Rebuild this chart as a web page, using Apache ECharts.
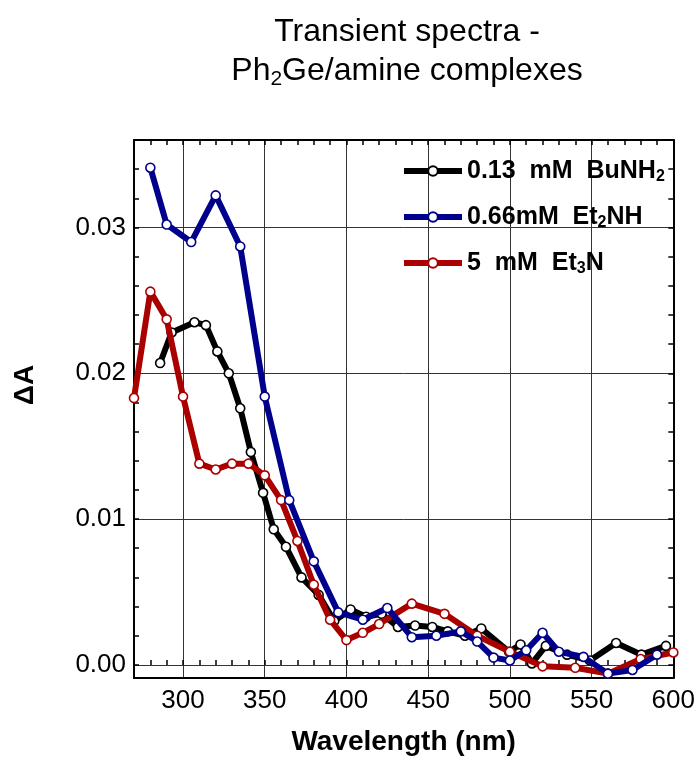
<!DOCTYPE html>
<html>
<head>
<meta charset="utf-8">
<title>Transient spectra</title>
<script src="https://cdn.jsdelivr.net/npm/echarts@6/dist/echarts.min.js"></script>
<style>
  html, body { margin: 0; padding: 0; background: #fff; }
  #chart { width: 698px; height: 764px; }
</style>
</head>
<body>
<div id="chart"></div>
<script>
// wavelength (nm) / deltaA
const buNH2X = [286, 293, 307, 314, 321, 328, 335, 341.5, 349, 355.5, 363, 372.5, 383, 392.5, 402.5, 412, 421.5, 431.5, 442, 452.5, 462, 472.5, 482.5, 499.5, 506.5, 513.5, 522, 535, 549, 565, 580.5, 595.5];
const buNH2Y = [0.0207, 0.0228, 0.0235, 0.0233, 0.0215, 0.0200, 0.0176, 0.0146, 0.0118, 0.0093, 0.0081, 0.0060, 0.0048, 0.0030, 0.0038, 0.0033, 0.0035, 0.0026, 0.0027, 0.0026, 0.0023, 0.0020, 0.0025, 0.0009, 0.0014, 0.0001, 0.0013, 0.0007, 0.0003, 0.0015, 0.0007, 0.0013];

const et2NHX = [280, 290, 305, 320, 335, 350, 365, 380, 395, 410, 425, 440, 455, 470, 480, 490, 500, 510, 520, 530, 545, 560, 575, 590];
const et2NHY = [0.0341, 0.0302, 0.0290, 0.0322, 0.0287, 0.0184, 0.0113, 0.0071, 0.0036, 0.0031, 0.0039, 0.0019, 0.0020, 0.0023, 0.0016, 0.0005, 0.0003, 0.0010, 0.0022, 0.0009, 0.00055, -0.0006, -0.00035, 0.0007];

const et3NX = [270, 280, 290, 300, 310, 320, 330, 340, 350, 360, 370, 380, 390, 400, 410, 420, 440, 460, 480, 500, 520, 540, 560, 580, 600];
const et3NY = [0.0183, 0.0256, 0.0237, 0.0184, 0.0138, 0.0134, 0.0138, 0.0138, 0.0130, 0.0113, 0.0085, 0.0055, 0.0031, 0.0017, 0.0022, 0.0028, 0.0042, 0.0035, 0.0020, 0.0009, -0.0001, -0.0002, -0.0006, 0.0004, 0.00085];

const seriesNames = ['0.13 mM BuNH2', '0.66mM Et2NH', '5 mM Et3N'];

// axis ticks
const xMajorTicks = [300, 350, 400, 450, 500, 550, 600];
const xMinorTicks = [280, 290, 300, 310, 320, 330, 340, 350, 360, 370, 380, 390, 400, 410, 420, 430, 440, 450, 460, 470, 480, 490, 500, 510, 520, 530, 540, 550, 560, 570, 580, 590];
const yMajorTicks = [0, 0.01, 0.02, 0.03];
const yMinorTicks = [0, 0.002, 0.004, 0.006, 0.008, 0.01, 0.012, 0.014, 0.016, 0.018, 0.02, 0.022, 0.024, 0.026, 0.028, 0.03, 0.032, 0.034];

const FONT = "'Liberation Sans Narrow', 'Liberation Sans', Arial, sans-serif";

const chart = echarts.init(document.getElementById('chart'));

const pairs = (xs, ys) => xs.map((x, i) => [x, ys[i]]);

// legend labels with subscripts
const legendRich = {
	'0.13 mM BuNH2': '{t|0.13  mM  BuNH}{s|2}',
	'0.66mM Et2NH': '{t|0.66mM  Et}{s|2}{t|NH}',
	'5 mM Et3N': '{t|5  mM  Et}{s|3}{t|N}',
};

const lineSeries = (name, data, color, z) => ({
	name: name,
	type: 'line',
	data: data,
	z: z,
	symbol: 'circle',
	symbolSize: 9,
	showSymbol: true,
	lineStyle: { color: color, width: 6 },
	itemStyle: { color: '#fff', borderColor: color, borderWidth: 1.6 },
	emphasis: { disabled: true },
	animation: false,
});

const tickAxisX = (pos, ticks, extra) => Object.assign({
	type: 'value',
	position: pos,
	min: 270,
	max: 600,
	gridIndex: 0,
	axisLine: { show: false },
	axisTick: { show: true, inside: true, length: 5, customValues: ticks, lineStyle: { color: '#000', width: 1.5 } },
	axisLabel: { show: false },
	splitLine: { show: false },
}, extra || {});

const tickAxisY = (pos, ticks, extra) => Object.assign({
	type: 'value',
	position: pos,
	min: -0.0009,
	max: 0.036,
	gridIndex: 0,
	axisLine: { show: false },
	axisTick: { show: true, inside: true, length: 5, customValues: ticks, lineStyle: { color: '#000', width: 1.5 } },
	axisLabel: { show: false },
	splitLine: { show: false },
}, extra || {});

const option = {
	backgroundColor: '#fff',
	title: {
		text: '{a|Transient spectra -}\n{a|Ph}{s|2}{a|Ge/amine complexes}',
		left: 402,
		top: 8,
		textAlign: 'center',
		textStyle: {
			fontFamily: FONT,
			fontWeight: 'normal',
			color: '#000',
			rich: {
				a: { fontFamily: FONT, fontSize: 32, lineHeight: 39, color: '#000' },
				s: { fontFamily: FONT, fontSize: 21, lineHeight: 39, padding: [16, 0, 0, 0], color: '#000' },
			},
		},
	},
	grid: { left: 134, right: 24.5, top: 140, bottom: 86, containLabel: false },
	legend: {
		data: seriesNames,
		orient: 'vertical',
		left: 396,
		top: 152,
		itemWidth: 58,
		itemHeight: 12,
		itemGap: 18,
		selectedMode: false,
		lineStyle: { width: 6 },
		formatter: name => legendRich[name],
		textStyle: {
			fontFamily: FONT,
			fontWeight: 'bold',
			color: '#000',
			rich: {
				t: { fontFamily: FONT, fontSize: 25, fontWeight: 'bold', lineHeight: 26, color: '#000' },
				s: { fontFamily: FONT, fontSize: 16, fontWeight: 'bold', lineHeight: 26, padding: [12, 0, 0, 0], color: '#000' },
			},
		},
	},
	xAxis: [
		{
			type: 'value',
			position: 'bottom',
			min: 270,
			max: 600,
			name: 'Wavelength (nm)',
			nameLocation: 'middle',
			nameGap: 50,
			nameTextStyle: { fontFamily: FONT, fontSize: 28, fontWeight: 'bold', color: '#000' },
			axisLine: { show: true, onZero: false, lineStyle: { color: '#000', width: 2 } },
			axisTick: { show: false, customValues: xMajorTicks },
			axisLabel: { customValues: xMajorTicks, margin: 10, fontFamily: FONT, fontSize: 26, color: '#000' },
			splitLine: { show: true, lineStyle: { color: '#333', width: 1 } },
		},
		tickAxisX('bottom', xMinorTicks),
		tickAxisX('top', xMinorTicks, { axisLine: { show: true, onZero: false, lineStyle: { color: '#000', width: 2 } } }),
	],
	yAxis: [
		{
			type: 'value',
			position: 'left',
			min: -0.0009,
			max: 0.036,
			name: 'ΔA',
			nameLocation: 'middle',
			nameGap: 95,
			nameTextStyle: { fontFamily: FONT, fontSize: 28, fontWeight: 'bold', color: '#000', padding: [0, 0, 0, 48] },
			axisLine: { show: true, onZero: false, lineStyle: { color: '#000', width: 2 } },
			axisTick: { show: false, customValues: yMajorTicks },
			axisLabel: { customValues: yMajorTicks, margin: 8, fontFamily: FONT, fontSize: 26, color: '#000', formatter: v => v.toFixed(2) },
			splitLine: { show: true, lineStyle: { color: '#333', width: 1 } },
		},
		tickAxisY('left', yMinorTicks),
		tickAxisY('right', yMinorTicks, { axisLine: { show: true, onZero: false, lineStyle: { color: '#000', width: 2 } } }),
	],
	series: [
		lineSeries(seriesNames[0], pairs(buNH2X, buNH2Y), '#000000', 2),
		lineSeries(seriesNames[2], pairs(et3NX, et3NY), '#aa0000', 3),
		lineSeries(seriesNames[1], pairs(et2NHX, et2NHY), '#00008c', 4),
	],
};

chart.setOption(option);
</script>
</body>
</html>
